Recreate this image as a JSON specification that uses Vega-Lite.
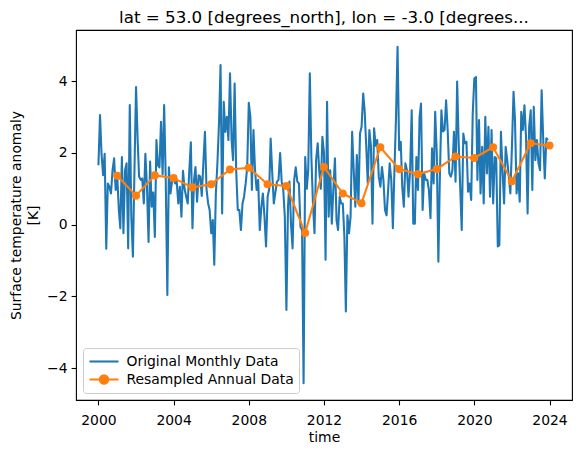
{
  "$schema": "https://vega.github.io/schema/vega-lite/v6.json",
  "width": 496,
  "height": 370,
  "autosize": {"type": "none"},
  "padding": {"left": 76, "top": 30, "right": 9, "bottom": 53},
  "background": "white",
  "title": {
    "text": "lat = 53.0 [degrees_north], lon = -3.0 [degrees...",
    "font": "DejaVu Sans", "fontSize": 16.7, "fontWeight": "normal", "color": "black",
    "anchor": "middle", "frame": "group", "baseline": "alphabetic", "offset": -10
  },
  "config": {
    "font": "DejaVu Sans",
    "view": {"stroke": "black", "strokeWidth": 1.1},
    "axis": {
      "domain": false, "grid": false,
      "tickColor": "black", "tickSize": 4.9, "tickWidth": 1.1,
      "labelFont": "DejaVu Sans", "labelFontSize": 13.9, "labelColor": "black", "labelPadding": 4,
      "titleFont": "DejaVu Sans", "titleFontSize": 13.9, "titleFontWeight": "normal", "titleColor": "black"
    },
    "axisX": {"titlePadding": 3, "labelFlush": false, "labelPadding": 9},
    "axisY": {"titlePadding": 6, "titleLineHeight": 17.5}
  },
  "datasets": {
    "monthly": [
      {"time": "2000-01-01", "anomaly": 1.66}, {"time": "2000-02-01", "anomaly": 3.06}, {"time": "2000-03-01", "anomaly": 1.97}, {"time": "2000-04-01", "anomaly": 1.38}, {"time": "2000-05-01", "anomaly": 1.98}, {"time": "2000-06-01", "anomaly": -0.67}, {"time": "2000-07-01", "anomaly": 1.15}, {"time": "2000-08-01", "anomaly": 1.06}, {"time": "2000-09-01", "anomaly": 0.87}, {"time": "2000-10-01", "anomaly": 1.52}, {"time": "2000-11-01", "anomaly": 1.85}, {"time": "2000-12-01", "anomaly": 0.97},
      {"time": "2001-01-01", "anomaly": 1.34}, {"time": "2001-02-01", "anomaly": 0.41}, {"time": "2001-03-01", "anomaly": -0.10}, {"time": "2001-04-01", "anomaly": 1.89}, {"time": "2001-05-01", "anomaly": -0.24}, {"time": "2001-06-01", "anomaly": 1.52}, {"time": "2001-07-01", "anomaly": 1.71}, {"time": "2001-08-01", "anomaly": -0.66}, {"time": "2001-09-01", "anomaly": 3.34}, {"time": "2001-10-01", "anomaly": 0.22}, {"time": "2001-11-01", "anomaly": -0.89}, {"time": "2001-12-01", "anomaly": 1.52},
      {"time": "2002-01-01", "anomaly": 3.84}, {"time": "2002-02-01", "anomaly": 2.36}, {"time": "2002-03-01", "anomaly": 1.34}, {"time": "2002-04-01", "anomaly": 1.25}, {"time": "2002-05-01", "anomaly": 1.29}, {"time": "2002-06-01", "anomaly": 0.59}, {"time": "2002-07-01", "anomaly": 1.98}, {"time": "2002-08-01", "anomaly": 1.06}, {"time": "2002-09-01", "anomaly": -0.48}, {"time": "2002-10-01", "anomaly": 1.76}, {"time": "2002-11-01", "anomaly": 0.50}, {"time": "2002-12-01", "anomaly": 0.90},
      {"time": "2003-01-01", "anomaly": -0.34}, {"time": "2003-02-01", "anomaly": 2.36}, {"time": "2003-03-01", "anomaly": 1.66}, {"time": "2003-04-01", "anomaly": 1.60}, {"time": "2003-05-01", "anomaly": 2.87}, {"time": "2003-06-01", "anomaly": 1.40}, {"time": "2003-07-01", "anomaly": 3.34}, {"time": "2003-08-01", "anomaly": 1.25}, {"time": "2003-09-01", "anomaly": -1.96}, {"time": "2003-10-01", "anomaly": 1.60}, {"time": "2003-11-01", "anomaly": 0.87}, {"time": "2003-12-01", "anomaly": 1.20},
      {"time": "2004-01-01", "anomaly": 1.30}, {"time": "2004-02-01", "anomaly": 1.15}, {"time": "2004-03-01", "anomaly": 1.20}, {"time": "2004-04-01", "anomaly": 0.59}, {"time": "2004-05-01", "anomaly": 1.06}, {"time": "2004-06-01", "anomaly": 0.22}, {"time": "2004-07-01", "anomaly": 1.50}, {"time": "2004-08-01", "anomaly": 1.00}, {"time": "2004-09-01", "anomaly": 0.78}, {"time": "2004-10-01", "anomaly": 0.59}, {"time": "2004-11-01", "anomaly": 1.52}, {"time": "2004-12-01", "anomaly": 2.30},
      {"time": "2005-01-01", "anomaly": -0.10}, {"time": "2005-02-01", "anomaly": 1.25}, {"time": "2005-03-01", "anomaly": 1.61}, {"time": "2005-04-01", "anomaly": 0.64}, {"time": "2005-05-01", "anomaly": 1.38}, {"time": "2005-06-01", "anomaly": 1.34}, {"time": "2005-07-01", "anomaly": 0.80}, {"time": "2005-08-01", "anomaly": 1.71}, {"time": "2005-09-01", "anomaly": 2.59}, {"time": "2005-10-01", "anomaly": 1.00}, {"time": "2005-11-01", "anomaly": 0.60}, {"time": "2005-12-01", "anomaly": 0.41},
      {"time": "2006-01-01", "anomaly": -0.24}, {"time": "2006-02-01", "anomaly": 0.13}, {"time": "2006-03-01", "anomaly": -1.12}, {"time": "2006-04-01", "anomaly": 0.87}, {"time": "2006-05-01", "anomaly": 1.71}, {"time": "2006-06-01", "anomaly": 2.82}, {"time": "2006-07-01", "anomaly": 4.45}, {"time": "2006-08-01", "anomaly": 0.31}, {"time": "2006-09-01", "anomaly": 3.43}, {"time": "2006-10-01", "anomaly": 2.59}, {"time": "2006-11-01", "anomaly": 3.01}, {"time": "2006-12-01", "anomaly": 2.36},
      {"time": "2007-01-01", "anomaly": 4.22}, {"time": "2007-02-01", "anomaly": 2.36}, {"time": "2007-03-01", "anomaly": 1.80}, {"time": "2007-04-01", "anomaly": 3.94}, {"time": "2007-05-01", "anomaly": 1.50}, {"time": "2007-06-01", "anomaly": 0.41}, {"time": "2007-07-01", "anomaly": 0.41}, {"time": "2007-08-01", "anomaly": -0.15}, {"time": "2007-09-01", "anomaly": 0.59}, {"time": "2007-10-01", "anomaly": 0.78}, {"time": "2007-11-01", "anomaly": 1.15}, {"time": "2007-12-01", "anomaly": 1.60},
      {"time": "2008-01-01", "anomaly": 3.40}, {"time": "2008-02-01", "anomaly": 3.01}, {"time": "2008-03-01", "anomaly": 0.97}, {"time": "2008-04-01", "anomaly": 2.64}, {"time": "2008-05-01", "anomaly": 1.52}, {"time": "2008-06-01", "anomaly": 0.97}, {"time": "2008-07-01", "anomaly": 1.25}, {"time": "2008-08-01", "anomaly": -0.15}, {"time": "2008-09-01", "anomaly": 0.50}, {"time": "2008-10-01", "anomaly": 0.87}, {"time": "2008-11-01", "anomaly": 0.22}, {"time": "2008-12-01", "anomaly": -0.61},
      {"time": "2009-01-01", "anomaly": 0.78}, {"time": "2009-02-01", "anomaly": 1.00}, {"time": "2009-03-01", "anomaly": 2.40}, {"time": "2009-04-01", "anomaly": 1.43}, {"time": "2009-05-01", "anomaly": 0.59}, {"time": "2009-06-01", "anomaly": 0.90}, {"time": "2009-07-01", "anomaly": 1.20}, {"time": "2009-08-01", "anomaly": 1.25}, {"time": "2009-09-01", "anomaly": 2.00}, {"time": "2009-10-01", "anomaly": 1.20}, {"time": "2009-11-01", "anomaly": 0.97}, {"time": "2009-12-01", "anomaly": 0.22},
      {"time": "2010-01-01", "anomaly": -2.38}, {"time": "2010-02-01", "anomaly": 0.50}, {"time": "2010-03-01", "anomaly": 1.20}, {"time": "2010-04-01", "anomaly": 0.00}, {"time": "2010-05-01", "anomaly": -0.66}, {"time": "2010-06-01", "anomaly": 1.25}, {"time": "2010-07-01", "anomaly": 1.60}, {"time": "2010-08-01", "anomaly": 1.20}, {"time": "2010-09-01", "anomaly": 1.15}, {"time": "2010-10-01", "anomaly": -0.06}, {"time": "2010-11-01", "anomaly": -0.15}, {"time": "2010-12-01", "anomaly": -4.42},
      {"time": "2011-01-01", "anomaly": 1.89}, {"time": "2011-02-01", "anomaly": 1.00}, {"time": "2011-03-01", "anomaly": 1.52}, {"time": "2011-04-01", "anomaly": 4.22}, {"time": "2011-05-01", "anomaly": 1.89}, {"time": "2011-06-01", "anomaly": 0.59}, {"time": "2011-07-01", "anomaly": -0.24}, {"time": "2011-08-01", "anomaly": 1.80}, {"time": "2011-09-01", "anomaly": 2.27}, {"time": "2011-10-01", "anomaly": 1.50}, {"time": "2011-11-01", "anomaly": 1.00}, {"time": "2011-12-01", "anomaly": 2.45},
      {"time": "2012-01-01", "anomaly": 2.00}, {"time": "2012-02-01", "anomaly": -0.98}, {"time": "2012-03-01", "anomaly": 3.43}, {"time": "2012-04-01", "anomaly": 0.22}, {"time": "2012-05-01", "anomaly": 1.52}, {"time": "2012-06-01", "anomaly": 0.03}, {"time": "2012-07-01", "anomaly": 0.97}, {"time": "2012-08-01", "anomaly": 1.85}, {"time": "2012-09-01", "anomaly": 0.13}, {"time": "2012-10-01", "anomaly": -0.15}, {"time": "2012-11-01", "anomaly": 0.78}, {"time": "2012-12-01", "anomaly": 0.59},
      {"time": "2013-01-01", "anomaly": 0.59}, {"time": "2013-02-01", "anomaly": -0.34}, {"time": "2013-03-01", "anomaly": -2.42}, {"time": "2013-04-01", "anomaly": 0.26}, {"time": "2013-05-01", "anomaly": -0.24}, {"time": "2013-06-01", "anomaly": 0.22}, {"time": "2013-07-01", "anomaly": 2.59}, {"time": "2013-08-01", "anomaly": 1.52}, {"time": "2013-09-01", "anomaly": 0.50}, {"time": "2013-10-01", "anomaly": 1.94}, {"time": "2013-11-01", "anomaly": 0.59}, {"time": "2013-12-01", "anomaly": 2.54},
      {"time": "2014-01-01", "anomaly": 2.73}, {"time": "2014-02-01", "anomaly": 3.66}, {"time": "2014-03-01", "anomaly": 3.19}, {"time": "2014-04-01", "anomaly": 2.20}, {"time": "2014-05-01", "anomaly": 1.15}, {"time": "2014-06-01", "anomaly": 2.64}, {"time": "2014-07-01", "anomaly": 2.20}, {"time": "2014-08-01", "anomaly": 0.03}, {"time": "2014-09-01", "anomaly": 2.69}, {"time": "2014-10-01", "anomaly": 2.20}, {"time": "2014-11-01", "anomaly": 2.36}, {"time": "2014-12-01", "anomaly": 1.34},
      {"time": "2015-01-01", "anomaly": 1.06}, {"time": "2015-02-01", "anomaly": 1.61}, {"time": "2015-03-01", "anomaly": 1.25}, {"time": "2015-04-01", "anomaly": 0.41}, {"time": "2015-05-01", "anomaly": 0.26}, {"time": "2015-06-01", "anomaly": 0.97}, {"time": "2015-07-01", "anomaly": 1.71}, {"time": "2015-08-01", "anomaly": 1.25}, {"time": "2015-09-01", "anomaly": -0.10}, {"time": "2015-10-01", "anomaly": 1.50}, {"time": "2015-11-01", "anomaly": 3.00}, {"time": "2015-12-01", "anomaly": 4.96},
      {"time": "2016-01-01", "anomaly": 2.08}, {"time": "2016-02-01", "anomaly": 2.31}, {"time": "2016-03-01", "anomaly": 1.06}, {"time": "2016-04-01", "anomaly": 0.50}, {"time": "2016-05-01", "anomaly": 1.71}, {"time": "2016-06-01", "anomaly": 1.52}, {"time": "2016-07-01", "anomaly": 0.78}, {"time": "2016-08-01", "anomaly": 1.52}, {"time": "2016-09-01", "anomaly": 3.19}, {"time": "2016-10-01", "anomaly": 0.03}, {"time": "2016-11-01", "anomaly": 0.03}, {"time": "2016-12-01", "anomaly": 1.89},
      {"time": "2017-01-01", "anomaly": 0.97}, {"time": "2017-02-01", "anomaly": 3.01}, {"time": "2017-03-01", "anomaly": 3.38}, {"time": "2017-04-01", "anomaly": 0.41}, {"time": "2017-05-01", "anomaly": 1.43}, {"time": "2017-06-01", "anomaly": 1.25}, {"time": "2017-07-01", "anomaly": 1.25}, {"time": "2017-08-01", "anomaly": 0.97}, {"time": "2017-09-01", "anomaly": 0.18}, {"time": "2017-10-01", "anomaly": 2.13}, {"time": "2017-11-01", "anomaly": 1.15}, {"time": "2017-12-01", "anomaly": 3.15},
      {"time": "2018-01-01", "anomaly": 1.99}, {"time": "2018-02-01", "anomaly": -1.03}, {"time": "2018-03-01", "anomaly": 1.25}, {"time": "2018-04-01", "anomaly": 3.19}, {"time": "2018-05-01", "anomaly": 2.60}, {"time": "2018-06-01", "anomaly": 2.64}, {"time": "2018-07-01", "anomaly": 3.47}, {"time": "2018-08-01", "anomaly": 2.64}, {"time": "2018-09-01", "anomaly": 1.43}, {"time": "2018-10-01", "anomaly": 1.34}, {"time": "2018-11-01", "anomaly": 1.52}, {"time": "2018-12-01", "anomaly": 2.59},
      {"time": "2019-01-01", "anomaly": 1.20}, {"time": "2019-02-01", "anomaly": 3.99}, {"time": "2019-03-01", "anomaly": 2.36}, {"time": "2019-04-01", "anomaly": 1.06}, {"time": "2019-05-01", "anomaly": -0.15}, {"time": "2019-06-01", "anomaly": 2.54}, {"time": "2019-07-01", "anomaly": 2.27}, {"time": "2019-08-01", "anomaly": 2.31}, {"time": "2019-09-01", "anomaly": 0.92}, {"time": "2019-10-01", "anomaly": 1.15}, {"time": "2019-11-01", "anomaly": 0.69}, {"time": "2019-12-01", "anomaly": 3.10},
      {"time": "2020-01-01", "anomaly": 4.08}, {"time": "2020-02-01", "anomaly": 4.12}, {"time": "2020-03-01", "anomaly": 1.25}, {"time": "2020-04-01", "anomaly": 2.92}, {"time": "2020-05-01", "anomaly": 0.87}, {"time": "2020-06-01", "anomaly": 2.17}, {"time": "2020-07-01", "anomaly": 0.59}, {"time": "2020-08-01", "anomaly": 3.01}, {"time": "2020-09-01", "anomaly": 1.43}, {"time": "2020-10-01", "anomaly": 2.73}, {"time": "2020-11-01", "anomaly": 0.78}, {"time": "2020-12-01", "anomaly": 2.64},
      {"time": "2021-01-01", "anomaly": 0.59}, {"time": "2021-02-01", "anomaly": 1.89}, {"time": "2021-03-01", "anomaly": 1.85}, {"time": "2021-04-01", "anomaly": -0.61}, {"time": "2021-05-01", "anomaly": -0.57}, {"time": "2021-06-01", "anomaly": 2.59}, {"time": "2021-07-01", "anomaly": 1.52}, {"time": "2021-08-01", "anomaly": 0.59}, {"time": "2021-09-01", "anomaly": 2.17}, {"time": "2021-10-01", "anomaly": 1.80}, {"time": "2021-11-01", "anomaly": 1.34}, {"time": "2021-12-01", "anomaly": 0.87},
      {"time": "2022-01-01", "anomaly": 2.17}, {"time": "2022-02-01", "anomaly": 3.71}, {"time": "2022-03-01", "anomaly": 2.92}, {"time": "2022-04-01", "anomaly": 0.87}, {"time": "2022-05-01", "anomaly": 1.43}, {"time": "2022-06-01", "anomaly": 0.64}, {"time": "2022-07-01", "anomaly": 3.15}, {"time": "2022-08-01", "anomaly": 2.64}, {"time": "2022-09-01", "anomaly": 3.33}, {"time": "2022-10-01", "anomaly": 2.45}, {"time": "2022-11-01", "anomaly": 0.31}, {"time": "2022-12-01", "anomaly": 2.73},
      {"time": "2023-01-01", "anomaly": 3.19}, {"time": "2023-02-01", "anomaly": 0.97}, {"time": "2023-03-01", "anomaly": 3.29}, {"time": "2023-04-01", "anomaly": 1.80}, {"time": "2023-05-01", "anomaly": 2.36}, {"time": "2023-06-01", "anomaly": 1.71}, {"time": "2023-07-01", "anomaly": 1.52}, {"time": "2023-08-01", "anomaly": 3.75}, {"time": "2023-09-01", "anomaly": 2.36}, {"time": "2023-10-01", "anomaly": 1.29}, {"time": "2023-11-01", "anomaly": 2.41}, {"time": "2023-12-01", "anomaly": 2.36}
    ],
    "annual": [
      {"time": "2000-12-31", "anomaly": 1.365}, {"time": "2001-12-31", "anomaly": 0.81}, {"time": "2002-12-31", "anomaly": 1.375}, {"time": "2003-12-31", "anomaly": 1.30},
      {"time": "2004-12-31", "anomaly": 1.04}, {"time": "2005-12-31", "anomaly": 1.13}, {"time": "2006-12-31", "anomaly": 1.54}, {"time": "2007-12-31", "anomaly": 1.59},
      {"time": "2008-12-31", "anomaly": 1.13}, {"time": "2009-12-31", "anomaly": 1.08}, {"time": "2010-12-31", "anomaly": -0.23}, {"time": "2011-12-31", "anomaly": 1.61},
      {"time": "2012-12-31", "anomaly": 0.87}, {"time": "2013-12-31", "anomaly": 0.60}, {"time": "2014-12-31", "anomaly": 2.16}, {"time": "2015-12-31", "anomaly": 1.55},
      {"time": "2016-12-31", "anomaly": 1.41}, {"time": "2017-12-31", "anomaly": 1.55}, {"time": "2018-12-31", "anomaly": 1.90}, {"time": "2019-12-31", "anomaly": 1.86},
      {"time": "2020-12-31", "anomaly": 2.16}, {"time": "2021-12-31", "anomaly": 1.21}, {"time": "2022-12-31", "anomaly": 2.27}, {"time": "2023-12-31", "anomaly": 2.21}
    ],
    "legend": [
      {"series": "Original Monthly Data"},
      {"series": "Resampled Annual Data"}
    ]
  },
  "layer": [
    {
      "data": {"name": "monthly"},
      "mark": {"type": "line", "color": "#1f77b4", "strokeWidth": 2.08, "strokeJoin": "round"},
      "encoding": {
        "x": {
          "field": "time", "type": "temporal", "title": "time",
          "scale": {
            "type": "utc",
            "domain": [{"year": 1998, "month": 10, "date": 22, "utc": true}, {"year": 2025, "month": 3, "date": 13, "utc": true}]
          },
          "axis": {
            "format": "%Y", "formatType": "utc",
            "values": [
              {"year": 2000, "utc": true}, {"year": 2004, "utc": true}, {"year": 2008, "utc": true}, {"year": 2012, "utc": true},
              {"year": 2016, "utc": true}, {"year": 2020, "utc": true}, {"year": 2024, "utc": true}
            ]
          }
        },
        "y": {
          "field": "anomaly", "type": "quantitative",
          "title": ["Surface temperature anomaly", "[K]"],
          "scale": {"domain": [-4.89, 5.43], "nice": false, "zero": false},
          "axis": {"values": [-4, -2, 0, 2, 4]}
        }
      }
    },
    {
      "data": {"name": "annual"},
      "mark": {
        "type": "line", "color": "#ff7f0e", "strokeWidth": 2.08, "strokeJoin": "round",
        "point": {"filled": true, "size": 65, "color": "#ff7f0e", "opacity": 1}
      },
      "encoding": {
        "x": {"field": "time", "type": "temporal"},
        "y": {"field": "anomaly", "type": "quantitative"}
      }
    },
    {
      "data": {"name": "legend"},
      "mark": {"type": "point", "filled": true, "opacity": 0},
      "encoding": {
        "color": {
          "field": "series", "type": "nominal",
          "scale": {"domain": ["Original Monthly Data", "Resampled Annual Data"], "range": ["#1f77b4", "#ff7f0e"]},
          "legend": {
            "title": null, "orient": "bottom-left", "offset": 7, "padding": 5,
            "symbolSize": 196, "symbolOffset": 7.5, "labelOffset": 14, "rowPadding": 2,
            "symbolOpacity": 1, "symbolStrokeWidth": 2.08,
            "labelFont": "DejaVu Sans", "labelFontSize": 13.9, "labelColor": "black", "labelLimit": 400,
            "strokeColor": "#cccccc", "fillColor": "rgba(255,255,255,0.8)", "cornerRadius": 3
          }
        },
        "stroke": {
          "field": "series", "type": "nominal",
          "scale": {"domain": ["Original Monthly Data", "Resampled Annual Data"], "range": ["#1f77b4", "#ff7f0e"]},
          "legend": {
            "title": null, "orient": "bottom-left", "offset": 7, "padding": 5,
            "symbolSize": 196, "symbolOffset": 7.5, "labelOffset": 14, "rowPadding": 2,
            "symbolOpacity": 1, "symbolStrokeWidth": 2.08,
            "labelFont": "DejaVu Sans", "labelFontSize": 13.9, "labelColor": "black", "labelLimit": 400,
            "strokeColor": "#cccccc", "fillColor": "rgba(255,255,255,0.8)", "cornerRadius": 3
          }
        },
        "shape": {
          "field": "series", "type": "nominal",
          "scale": {
            "domain": ["Original Monthly Data", "Resampled Annual Data"],
            "range": ["M-2.07,0L2.07,0", "M-2.07,0L2.07,0M-0.6,0A0.6,0.6,0,1,0,0.6,0A0.6,0.6,0,1,0,-0.6,0Z"]
          },
          "legend": {
            "title": null, "orient": "bottom-left", "offset": 7, "padding": 5,
            "symbolSize": 196, "symbolOffset": 7.5, "labelOffset": 14, "rowPadding": 2,
            "symbolOpacity": 1, "symbolStrokeWidth": 2.08,
            "labelFont": "DejaVu Sans", "labelFontSize": 13.9, "labelColor": "black", "labelLimit": 400,
            "strokeColor": "#cccccc", "fillColor": "rgba(255,255,255,0.8)", "cornerRadius": 3
          }
        }
      }
    }
  ]
}
